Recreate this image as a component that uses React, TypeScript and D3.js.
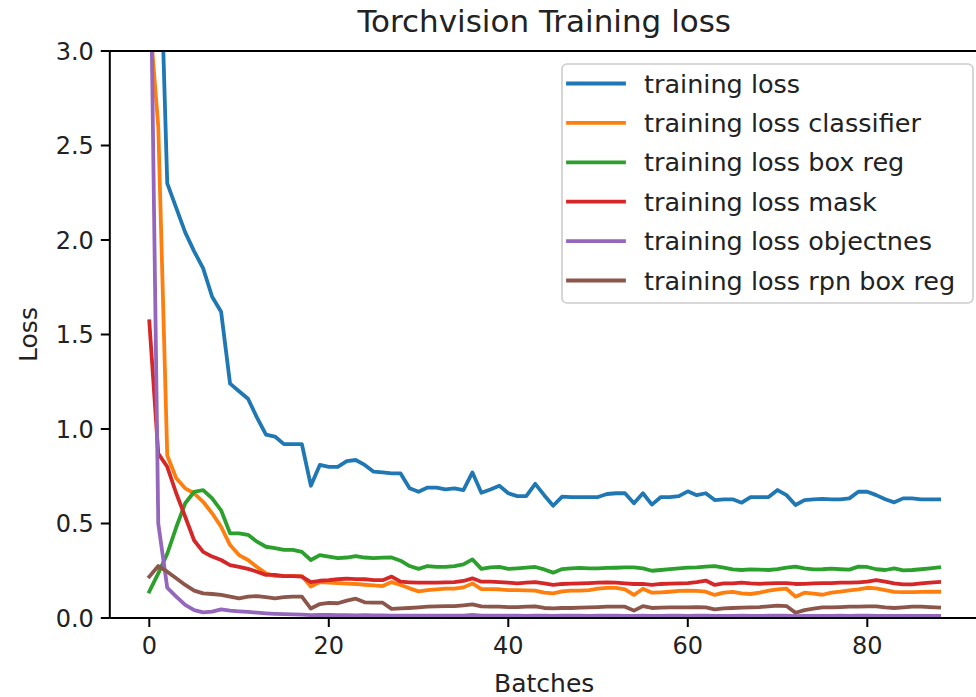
import React from "react";
import * as d3 from "d3";

const title = "Torchvision Training loss";
const xLabel = "Batches";
const yLabel = "Loss";
const xTicks = [0, 20, 40, 60, 80];
const yTicks = [0, 0.5, 1.0, 1.5, 2.0, 2.5, 3.0];

const seriesNames = [
  "training loss",
  "training loss classifier",
  "training loss box reg",
  "training loss mask",
  "training loss objectnes",
  "training loss rpn box reg",
];
const seriesColors = ["#1f77b4", "#ff7f0e", "#2ca02c", "#d62728", "#9467bd", "#8c564b"];

const lossTotal = [
  5.5, 3.9, 2.3, 2.17, 2.04, 1.94, 1.85, 1.7, 1.62, 1.24, 1.2, 1.16, 1.06, 0.97, 0.96, 0.92, 0.92, 0.92,
  0.7, 0.81, 0.8, 0.8, 0.83, 0.836, 0.81, 0.774, 0.77, 0.765, 0.765, 0.686, 0.668, 0.69, 0.69, 0.68, 0.686,
  0.677, 0.77, 0.663, 0.68, 0.7, 0.66, 0.645, 0.645, 0.71, 0.65, 0.594, 0.642, 0.64, 0.64, 0.64, 0.64, 0.656,
  0.66, 0.66, 0.607, 0.66, 0.6, 0.64, 0.64, 0.645, 0.67, 0.65, 0.66, 0.624, 0.628, 0.628, 0.61, 0.64, 0.64,
  0.64, 0.677, 0.65, 0.598, 0.624, 0.628, 0.63, 0.628, 0.628, 0.633, 0.668, 0.668, 0.65, 0.628, 0.612, 0.633,
  0.633, 0.628, 0.628, 0.628,
];
const lossClassifier = [
  3.2, 2.6, 0.86, 0.74, 0.686, 0.66, 0.615, 0.554, 0.483, 0.386, 0.333, 0.307, 0.27, 0.236, 0.222, 0.222,
  0.222, 0.222, 0.166, 0.19, 0.187, 0.185, 0.182, 0.18, 0.176, 0.173, 0.169, 0.19, 0.175, 0.157, 0.141, 0.148,
  0.152, 0.155, 0.155, 0.162, 0.183, 0.153, 0.153, 0.152, 0.148, 0.148, 0.146, 0.145, 0.134, 0.13, 0.141,
  0.145, 0.145, 0.148, 0.155, 0.159, 0.159, 0.152, 0.122, 0.155, 0.134, 0.136, 0.139, 0.143, 0.145, 0.143,
  0.139, 0.122, 0.134, 0.138, 0.13, 0.127, 0.134, 0.145, 0.152, 0.155, 0.113, 0.134, 0.129, 0.123, 0.134,
  0.139, 0.146, 0.152, 0.16, 0.157, 0.148, 0.138, 0.137, 0.137, 0.138, 0.139, 0.139,
];
const lossBoxReg = [
  0.14, 0.236, 0.34, 0.48, 0.607, 0.668, 0.677, 0.633, 0.57, 0.448, 0.448, 0.44, 0.404, 0.377, 0.37, 0.36,
  0.36, 0.35, 0.307, 0.333, 0.325, 0.317, 0.32, 0.328, 0.32, 0.317, 0.319, 0.32, 0.303, 0.275, 0.26, 0.275,
  0.27, 0.27, 0.275, 0.284, 0.31, 0.26, 0.268, 0.27, 0.26, 0.263, 0.266, 0.27, 0.257, 0.24, 0.259, 0.263,
  0.265, 0.263, 0.263, 0.265, 0.266, 0.268, 0.268, 0.263, 0.25, 0.254, 0.259, 0.263, 0.266, 0.268, 0.272,
  0.275, 0.266, 0.257, 0.254, 0.257, 0.256, 0.254, 0.259, 0.266, 0.272, 0.263, 0.257, 0.258, 0.261, 0.258,
  0.256, 0.272, 0.27, 0.258, 0.254, 0.263, 0.252, 0.254, 0.258, 0.263, 0.268,
];
const lossMask = [
  1.57, 0.87, 0.8, 0.66, 0.536, 0.41, 0.35, 0.325, 0.307, 0.28, 0.27, 0.26, 0.245, 0.228, 0.228, 0.222,
  0.222, 0.219, 0.19, 0.197, 0.2, 0.205, 0.208, 0.206, 0.205, 0.2, 0.2, 0.219, 0.192, 0.189, 0.187, 0.187,
  0.187, 0.189, 0.19, 0.196, 0.21, 0.192, 0.192, 0.19, 0.187, 0.183, 0.187, 0.19, 0.183, 0.175, 0.18, 0.182,
  0.183, 0.185, 0.187, 0.189, 0.187, 0.183, 0.18, 0.18, 0.175, 0.18, 0.182, 0.183, 0.185, 0.19, 0.198, 0.175,
  0.183, 0.183, 0.187, 0.183, 0.181, 0.183, 0.185, 0.185, 0.18, 0.181, 0.183, 0.185, 0.185, 0.187, 0.187,
  0.189, 0.192, 0.2, 0.192, 0.183, 0.178, 0.178, 0.183, 0.187, 0.19,
];
const lossObjectness = [
  4.0, 0.5, 0.16, 0.113, 0.069, 0.042, 0.03, 0.034, 0.046, 0.039, 0.035, 0.032, 0.028, 0.025, 0.022, 0.02,
  0.019, 0.018, 0.015, 0.016, 0.016, 0.015, 0.015, 0.014, 0.015, 0.014, 0.014, 0.013, 0.013, 0.013, 0.012,
  0.013, 0.013, 0.012, 0.013, 0.013, 0.016, 0.012, 0.012, 0.012, 0.012, 0.012, 0.011, 0.012, 0.012, 0.011,
  0.012, 0.012, 0.012, 0.011, 0.012, 0.012, 0.012, 0.011, 0.011, 0.012, 0.011, 0.011, 0.012, 0.012, 0.011,
  0.012, 0.012, 0.011, 0.011, 0.011, 0.012, 0.011, 0.011, 0.012, 0.012, 0.012, 0.01, 0.011, 0.011, 0.011,
  0.011, 0.012, 0.011, 0.012, 0.012, 0.011, 0.011, 0.011, 0.011, 0.011, 0.011, 0.011, 0.011,
];
const lossRpnBoxReg = [
  0.219, 0.275, 0.245, 0.21, 0.175, 0.145, 0.13, 0.127, 0.122, 0.113, 0.104, 0.113, 0.116, 0.11, 0.104, 0.11,
  0.113, 0.113, 0.05, 0.074, 0.08, 0.078, 0.092, 0.102, 0.083, 0.081, 0.081, 0.048, 0.051, 0.053, 0.056, 0.06,
  0.062, 0.063, 0.063, 0.067, 0.072, 0.062, 0.06, 0.06, 0.058, 0.058, 0.06, 0.062, 0.053, 0.051, 0.053, 0.053,
  0.055, 0.056, 0.058, 0.06, 0.06, 0.06, 0.039, 0.063, 0.053, 0.055, 0.056, 0.056, 0.056, 0.058, 0.056, 0.046,
  0.051, 0.053, 0.055, 0.056, 0.058, 0.062, 0.065, 0.063, 0.028, 0.042, 0.049, 0.056, 0.056, 0.058, 0.06,
  0.06, 0.062, 0.062, 0.056, 0.053, 0.056, 0.06, 0.06, 0.058, 0.055,
];

const allSeries = [lossTotal, lossClassifier, lossBoxReg, lossMask, lossObjectness, lossRpnBoxReg];

const W = 976;
const H = 697;
const FONT = "DejaVu Sans, sans-serif";

export default function App() {
  const n = lossTotal.length;
  const pad = (n - 1) * 0.05;
  // tick 0 at 149, tick 80 at 867
  const x = d3.scaleLinear().domain([0, 80]).range([149.3, 867.3]);
  const y = d3.scaleLinear().domain([0, 3]).range([618, 51]);
  const left = x(-pad);
  const right = x(n - 1 + pad);
  const top = y(3);
  const bottom = y(0);
  const midX = (left + right) / 2;

  const line = d3
    .line<number>()
    .x((_, i) => x(i))
    .y((d) => y(d));

  const legendTop = 64;
  const rowH = 39.4;

  return (
    <svg width={W} height={H} style={{ position: "absolute", left: 0, top: 0, background: "#fff" }} fontFamily={FONT}>
      <defs>
        <clipPath id="plot">
          <rect x={left} y={top} width={right - left} height={bottom - top} />
        </clipPath>
      </defs>
      <rect width={W} height={H} fill="#fff" />
      <g clipPath="url(#plot)">
        {allSeries.map((s, k) => (
          <path
            key={k}
            d={line(s) || ""}
            fill="none"
            stroke={seriesColors[k]}
            strokeWidth={3.8}
            strokeLinejoin="round"
            strokeLinecap="square"
          />
        ))}
      </g>
      {/* spines */}
      <g stroke="#000" strokeWidth={2} fill="none">
        <line x1={left} x2={left} y1={top} y2={bottom} />
        <line x1={right} x2={right} y1={top} y2={bottom} />
        <line x1={left} x2={right} y1={top} y2={top} />
        <line x1={left} x2={right} y1={bottom} y2={bottom} />
      </g>
      {/* x ticks */}
      {xTicks.map((t) => (
        <g key={t}>
          <line x1={x(t)} x2={x(t)} y1={bottom} y2={bottom + 9} stroke="#000" strokeWidth={2} />
          <text x={x(t)} y={bottom + 36} textAnchor="middle" fontSize={24} fill="#222">
            {t}
          </text>
        </g>
      ))}
      {/* y ticks */}
      {yTicks.map((t) => (
        <g key={t}>
          <line x1={left - 9} x2={left} y1={y(t)} y2={y(t)} stroke="#000" strokeWidth={2} />
          <text x={left - 16} y={y(t) + 8.5} textAnchor="end" fontSize={24} fill="#222">
            {t.toFixed(1)}
          </text>
        </g>
      ))}
      <text x={midX} y={692} textAnchor="middle" fontSize={25} fill="#222">
        {xLabel}
      </text>
      <text
        transform={`translate(37,${(top + bottom) / 2}) rotate(-90)`}
        textAnchor="middle"
        fontSize={25}
        fill="#222"
      >
        {yLabel}
      </text>
      <text x={midX} y={32} textAnchor="middle" fontSize={31} fill="#222">
        {title}
      </text>
      {/* legend */}
      <rect
        x={562}
        y={legendTop}
        width={411}
        height={239}
        rx={5}
        fill="#fff"
        fillOpacity={0.8}
        stroke="#cccccc"
        strokeWidth={1.6}
      />
      {seriesNames.map((name, k) => {
        const cy = legendTop + 19.5 + k * rowH;
        return (
          <g key={name}>
            <line x1={568} x2={624} y1={cy} y2={cy} stroke={seriesColors[k]} strokeWidth={3.8} strokeLinecap="square" />
            <text x={644} y={cy + 9} fontSize={25.5} fill="#222">
              {name}
            </text>
          </g>
        );
      })}
    </svg>
  );
}
